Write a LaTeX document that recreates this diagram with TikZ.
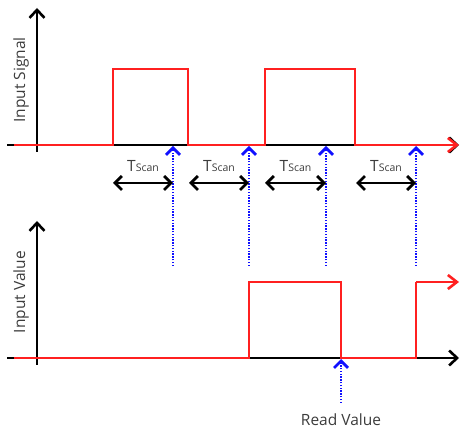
\documentclass[tikz,border=0pt]{standalone}
\usepackage{fontspec}
\setmainfont{Open Sans}
\usetikzlibrary{arrows.meta}
\definecolor{sigred}{HTML}{FF2020}
\definecolor{scanblue}{HTML}{1010FF}
\definecolor{txtgray}{HTML}{3C3C3C}
\tikzset{
  axisline/.style={draw=black, line width=1.5pt, -{Straight Barb[length=8pt,width=15pt,line width=2.6pt]}},
  sigline/.style={draw=sigred, line width=1.8pt, line join=miter},
  sigarrow/.style={sigline, -{Straight Barb[length=9pt,width=14pt,line width=2.6pt]}},
  scanline/.style={draw=scanblue, line width=1.4pt, dash pattern=on 1.4pt off 1.4pt, -{Straight Barb[length=7pt,width=14pt,line width=2.8pt,sep=0pt]}},
  period/.style={draw=black, line width=1.6pt, {Straight Barb[length=7pt,width=14pt,line width=2.8pt]}-{Straight Barb[length=7pt,width=14pt,line width=2.8pt]}},
  lbl/.style={text=txtgray, font=\fontsize{15.5}{15.5}\selectfont, inner sep=0pt},
  tlbl/.style={text=txtgray, font=\fontsize{15.5}{15.5}\selectfont, inner sep=0pt, anchor=base},
}
\newcommand{\tscan}{T{\fontsize{10.5}{10.5}\selectfont Scan}}
\begin{document}
\begin{tikzpicture}[x=1pt,y=-1pt]
\useasboundingbox (0,0) rectangle (461,430);
% ---------- top panel ----------
\coordinate (tY0) at (37,152);
\coordinate (tY1) at (37,8);
\coordinate (tX0) at (7,145);
\coordinate (tX1) at (459,145);
\draw[axisline] (tY0) -- (tY1);
\draw[axisline] (tX0) -- (tX1);
\node[lbl, rotate=90] (lsig) at (21,80) {Input Signal};
\draw[sigarrow] (14,145) -- (113,145) -- (113,69) -- (188,69) -- (188,145)
  -- (265,145) -- (265,69) -- (355,69) -- (355,145) -- (tX1);
% scan instants
\foreach \n/\x in {1/173,2/249,3/326,4/416}{
  \coordinate (sb\n) at (\x,266);
  \coordinate (st\n) at (\x,146);
  \draw[scanline] (sb\n) -- (st\n);
}
% scan periods
\foreach \n/\a/\b in {1/113/173,2/189/249,3/265/326,4/356/416}{
  \coordinate (pa\n) at (\a,183);
  \coordinate (pb\n) at (\b,183);
  \draw[period] (pa\n) -- (pb\n);
  \node[tlbl] (tl\n) at ({(\a+\b)/2},172) {\tscan};
}
% ---------- bottom panel ----------
\coordinate (bY0) at (37,365);
\coordinate (bY1) at (37,221);
\coordinate (bX0) at (7,358);
\coordinate (bX1) at (459,358);
\draw[axisline] (bY0) -- (bY1);
\draw[axisline] (bX0) -- (bX1);
\node[lbl, rotate=90] (lval) at (21,292) {Input Value};
\draw[sigline] (14,358) -- (249,358) -- (249,282) -- (341,282) -- (341,358) -- (416,358) -- (416,282);
\coordinate (rEnd) at (459,282);
\draw[sigarrow] (416,282) -- (rEnd);
% read value
\node[lbl] (rv) at (341,420) {Read Value};
\coordinate (rvTop) at (341,359);
\draw[scanline] (341,403) -- (rvTop);
\end{tikzpicture}
\end{document}
